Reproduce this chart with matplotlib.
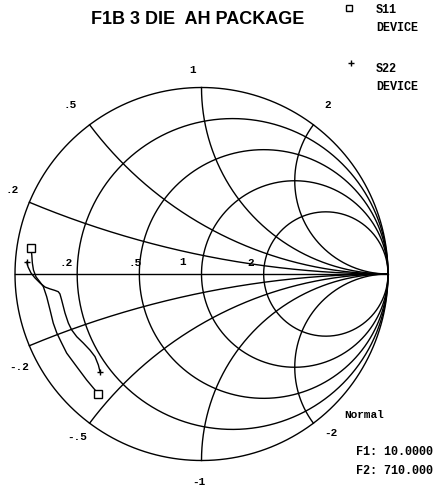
import numpy as np
import matplotlib
matplotlib.use("Agg")
import matplotlib.pyplot as plt

# ---- data (reflection coefficient, real / imaginary) ----
s11_re = [-0.914, -0.910, -0.907, -0.901, -0.887, -0.866, -0.848, -0.830, -0.812,
          -0.795, -0.776, -0.750, -0.723, -0.669, -0.616, -0.580, -0.553]
s11_im = [0.139, 0.102, 0.059, 0.021, -0.016, -0.043, -0.068, -0.122, -0.193,
          -0.263, -0.316, -0.370, -0.424, -0.497, -0.568, -0.611, -0.643]
s22_re = [-0.937, -0.930, -0.914, -0.893, -0.866, -0.839, -0.812, -0.786, -0.768,
          -0.759, -0.750, -0.732, -0.714, -0.696, -0.669, -0.634, -0.598, -0.571,
          -0.553, -0.544]
s22_im = [0.064, 0.038, 0.005, -0.021, -0.048, -0.070, -0.080, -0.088, -0.095,
          -0.107, -0.139, -0.209, -0.263, -0.300, -0.336, -0.370, -0.408, -0.443,
          -0.488, -0.524]

resistances = [0.2, 0.5, 1, 2]
reactances = [0.2, 0.5, 1, 2]
r_labels = [".2", ".5", "1", "2"]
x_pos_labels = [".2", ".5", "1", "2"]
x_neg_labels = ["-.2", "-.5", "-1", "-2"]

title = "F1B 3 DIE  AH PACKAGE"
legend_names = ["S11\nDEVICE", "S22\nDEVICE"]
chart_type = "Normal"
f1_text = "F1: 10.0000"
f2_text = "F2: 710.000"

# ---- figure set-up: pixel geometry ----
W, H = 441, 492
CX, CY, R = 201.5, 274.0, 186.5
fig = plt.figure(figsize=(W / 100, H / 100), dpi=100)
ax = fig.add_axes([0, 0, 1, 1])
ax.set_xlim((0 - CX) / R, (W - CX) / R)
ax.set_ylim((CY - H) / R, (CY - 0) / R)
ax.set_aspect("equal")
ax.axis("off")


def P(px, py):
    """pixel position -> chart coordinates (for text placement)."""
    return (px - CX) / R, (CY - py) / R


LW = 1.0
col = "black"
mono = ["Liberation Mono", "DejaVu Sans Mono"]

# outer circle (r = 0)
t = np.linspace(0, 2 * np.pi, 800)
ax.plot(np.cos(t), np.sin(t), color=col, lw=LW)
# real axis
ax.plot([-1, 1], [0, 0], color=col, lw=LW)

# constant resistance circles
for r in resistances:
    c = r / (1 + r)
    rad = 1 / (1 + r)
    ax.plot(c + rad * np.cos(t), rad * np.sin(t), color=col, lw=LW)

# constant reactance arcs
rr = np.concatenate(([0.0], np.logspace(-3, 4, 3000)))
for x in reactances:
    for s in (1, -1):
        z = rr + 1j * s * x
        g = (z - 1) / (z + 1)
        ax.plot(g.real, g.imag, color=col, lw=LW)

# traces
ax.plot(s11_re, s11_im, color=col, lw=LW)
ax.plot(s22_re, s22_im, color=col, lw=LW)
ax.plot([s11_re[0], s11_re[-1]], [s11_im[0], s11_im[-1]], ls="none", marker="s",
        ms=6, mfc="white", mec=col, mew=1.0)
ax.plot([s22_re[0], s22_re[-1]], [s22_im[0], s22_im[-1]], ls="none", marker="+",
        ms=5, mec=col, mew=1.0)

# resistance labels (above axis, left of crossings)
r_lab_pos = [(66, 263), (135, 263), (183, 262), (251, 263)]
for lab, (px, py) in zip(r_labels, r_lab_pos):
    ax.text(*P(px, py), lab, family=mono, fontsize=8, weight="bold",
            ha="center", va="center")

# reactance labels outside the circle
xp_pos = [(12, 190), (70, 105), (193, 70), (328, 105)]
xn_pos = [(19, 367), (77, 437), (199, 482), (331, 433)]
for lab, (px, py) in zip(x_pos_labels, xp_pos):
    ax.text(*P(px, py), lab, family=mono, fontsize=8, weight="bold",
            ha="center", va="center")
for lab, (px, py) in zip(x_neg_labels, xn_pos):
    ax.text(*P(px, py), lab, family=mono, fontsize=8, weight="bold",
            ha="center", va="center")

# title
ax.text(*P(198, 20), title, family=["Liberation Sans", "DejaVu Sans"],
        fontsize=13, weight="bold", ha="center", va="center")

# legend
ax.plot(*P(349, 8), marker="s", ms=5, mfc="white", mec=col, mew=1.0)
ax.text(*P(376, 19), legend_names[0], family=mono, fontsize=8.5, weight="bold",
        ha="left", va="center", linespacing=1.6)
ax.plot(*P(351, 63), marker="+", ms=5, mec=col, mew=1.0)
ax.text(*P(376, 78), legend_names[1], family=mono, fontsize=8.5, weight="bold",
        ha="left", va="center", linespacing=1.6)

# bottom-right info
ax.text(*P(344, 415), chart_type, family=mono, fontsize=8, weight="bold",
        ha="left", va="center")
ax.text(*P(356, 452), f1_text, family=mono, fontsize=8.5, weight="bold",
        ha="left", va="center")
ax.text(*P(356, 471), f2_text, family=mono, fontsize=8.5, weight="bold",
        ha="left", va="center")

fig.savefig("out.png", dpi=100, facecolor="white")
